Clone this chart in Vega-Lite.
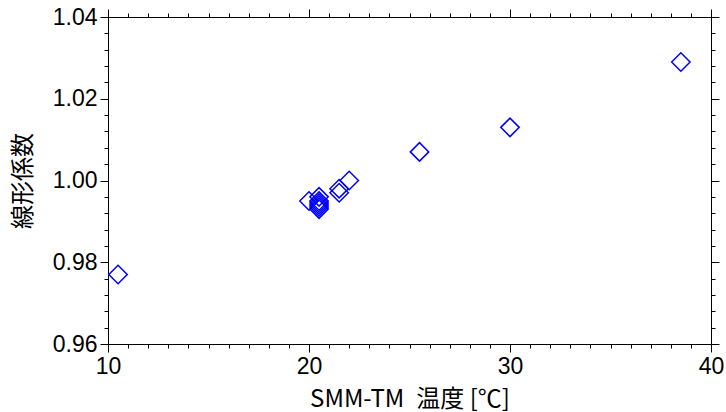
{
  "$schema": "https://vega.github.io/schema/vega-lite/v6.json",
  "width": 603,
  "height": 327,
  "autosize": {"type": "none"},
  "padding": {"left": 108, "top": 17, "right": 15, "bottom": 68},
  "background": "white",
  "config": {
    "view": {"stroke": "black", "strokeWidth": 1},
    "axis": {"grid": false, "domainColor": "black", "tickColor": "black", "labelColor": "black", "titleColor": "black", "labelFont": "Liberation Sans", "labelFontSize": 23, "titleFont": "Noto Sans CJK JP", "titleFontSize": 24, "titleFontWeight": "normal"}
  },
  "data": {
    "values": [
      {"t": 10.5, "c": 0.977},
      {"t": 20.0, "c": 0.995},
      {"t": 20.5, "c": 0.996},
      {"t": 20.5, "c": 0.995},
      {"t": 20.5, "c": 0.9945},
      {"t": 20.5, "c": 0.994},
      {"t": 20.5, "c": 0.9935},
      {"t": 20.5, "c": 0.993},
      {"t": 21.5, "c": 0.998},
      {"t": 21.5, "c": 0.997},
      {"t": 22.0, "c": 1.000},
      {"t": 25.5, "c": 1.007},
      {"t": 30.0, "c": 1.013},
      {"t": 38.5, "c": 1.029}
    ]
  },
  "resolve": {"axis": {"x": "independent", "y": "independent"}},
  "layer": [
    {
      "mark": {"type": "point", "shape": "diamond", "filled": false, "color": "#0000ff", "opacity": 1, "strokeWidth": 1.5, "size": 340},
      "encoding": {
        "x": {"field": "t", "type": "quantitative", "scale": {"domain": [10, 40], "nice": false, "zero": false},
              "axis": {"orient": "bottom", "values": [10, 20, 30, 40], "tickSize": 8, "labelPadding": 3, "title": "SMM-TM\u2002温度 [℃]", "titlePadding": 9, "labelFlush": false}},
        "y": {"field": "c", "type": "quantitative", "scale": {"domain": [0.96, 1.04], "nice": false, "zero": false},
              "axis": {"orient": "left", "values": [0.96, 0.98, 1.0, 1.02, 1.04], "format": ".2f", "tickSize": 8, "labelPadding": 3, "title": "線形係数", "titlePadding": 17, "labelFlush": false}}
      }
    },
    {
      "mark": {"type": "point", "opacity": 0},
      "encoding": {
        "x": {"field": "t", "type": "quantitative", "axis": {"orient": "bottom", "values": [11,12,13,14,15,16,17,18,19,21,22,23,24,25,26,27,28,29,31,32,33,34,35,36,37,38,39], "tickSize": 4, "labels": false, "domain": false, "title": null}},
        "y": {"field": "c", "type": "quantitative", "axis": {"orient": "left", "values": [0.964,0.968,0.972,0.976,0.984,0.988,0.992,0.996,1.004,1.008,1.012,1.016,1.024,1.028,1.032,1.036], "tickSize": 4, "labels": false, "domain": false, "title": null}}
      }
    },
    {
      "mark": {"type": "point", "opacity": 0},
      "encoding": {
        "x": {"field": "t", "type": "quantitative", "axis": {"orient": "top", "values": [10, 20, 30, 40], "tickSize": 8, "labels": false, "title": null}},
        "y": {"field": "c", "type": "quantitative", "axis": {"orient": "right", "values": [0.96, 0.98, 1.0, 1.02, 1.04], "tickSize": 8, "labels": false, "title": null}}
      }
    },
    {
      "mark": {"type": "point", "opacity": 0},
      "encoding": {
        "x": {"field": "t", "type": "quantitative", "axis": {"orient": "top", "values": [11,12,13,14,15,16,17,18,19,21,22,23,24,25,26,27,28,29,31,32,33,34,35,36,37,38,39], "tickSize": 4, "labels": false, "domain": false, "title": null}},
        "y": {"field": "c", "type": "quantitative", "axis": {"orient": "right", "values": [0.964,0.968,0.972,0.976,0.984,0.988,0.992,0.996,1.004,1.008,1.012,1.016,1.024,1.028,1.032,1.036], "tickSize": 4, "labels": false, "domain": false, "title": null}}
      }
    }
  ]
}
